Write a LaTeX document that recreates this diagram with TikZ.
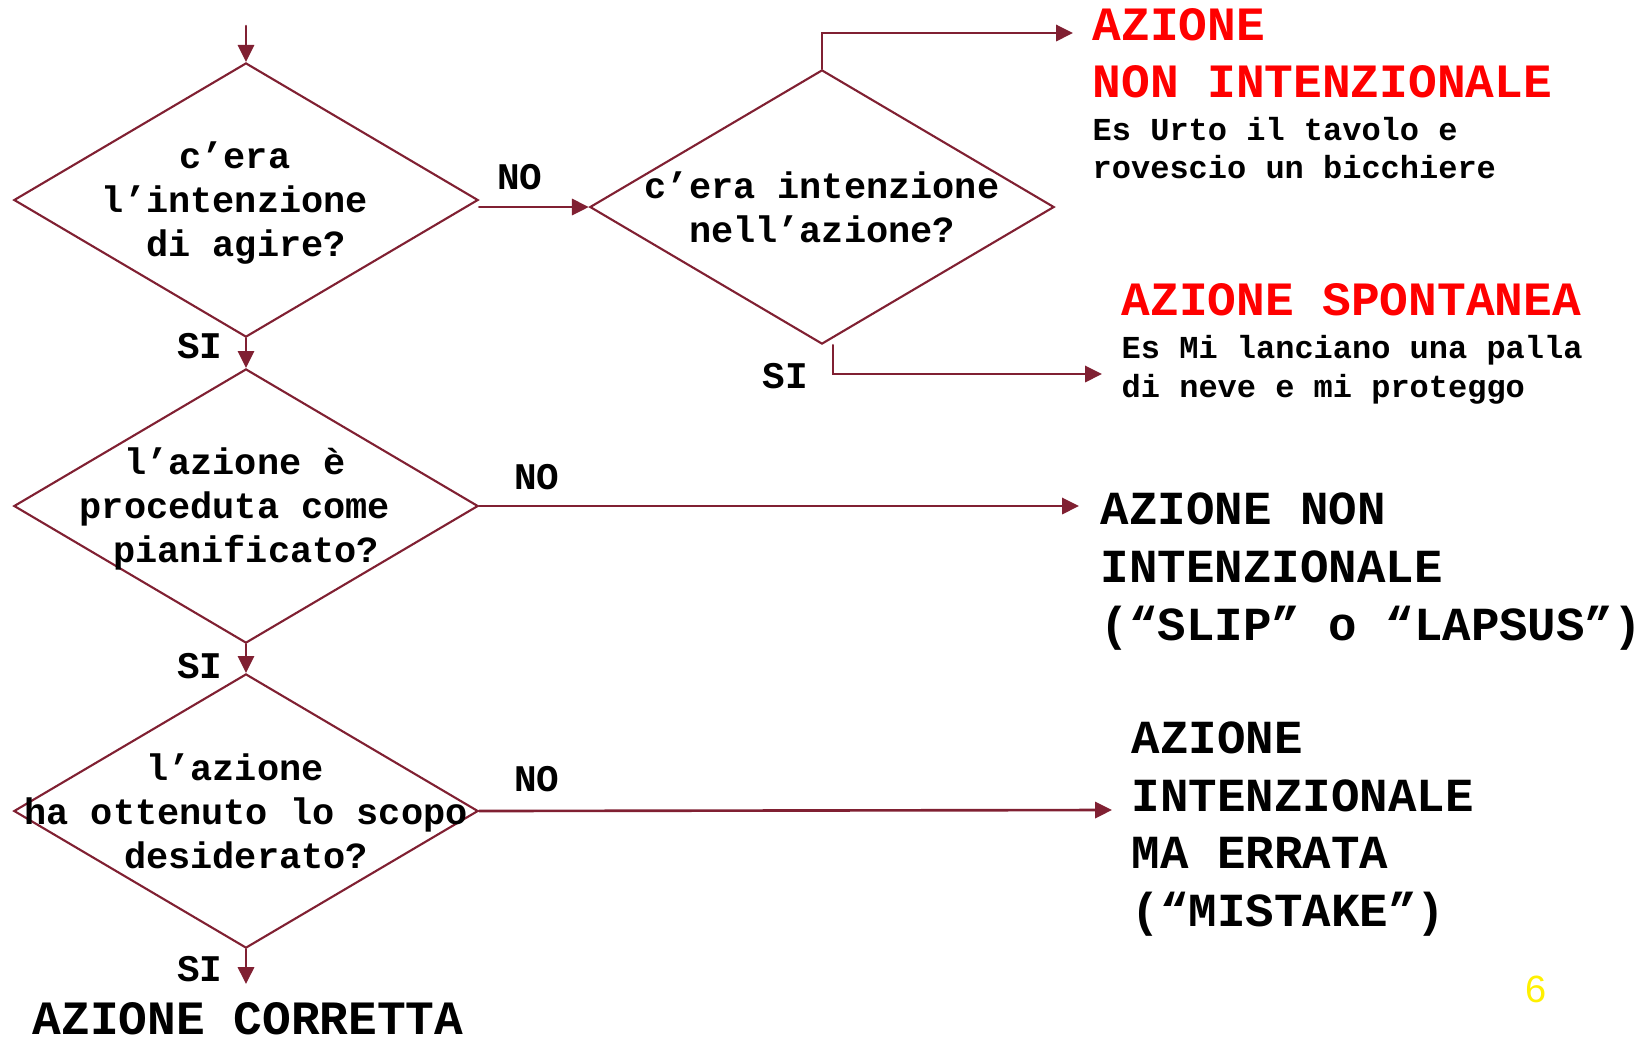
\documentclass[tikz,border=0pt]{standalone}
\usepackage{fontspec}
\setmonofont{Liberation Mono}
\newfontfamily\slidefont{Liberation Sans}
\usepackage{tikz}
\usetikzlibrary{arrows.meta, calc, shapes.geometric}
\definecolor{flowred}{RGB}{128,32,50}
\definecolor{notered}{RGB}{255,0,0}
\definecolor{pageyellow}{RGB}{255,240,0}
\newcommand{\courier}[2]{\ttfamily\bfseries\fontsize{#1}{#2}\selectfont}
\newcommand{\tsp}{\kern0.6em}

\begin{document}
\begin{tikzpicture}[x=0.01cm, y=-0.01cm, line cap=round,
  decision/.style={diamond, draw=flowred, line width=0.6pt, minimum width=4.64cm, minimum height=2.74cm, inner sep=0pt},
  qtext/.style={align=center, inner sep=0pt, font=\courier{10.5}{12.5}},
  yesno/.style={inner sep=0pt, font=\courier{10.7}{12}},
  arr/.style={draw=flowred, line width=0.75pt, -{Triangle[length=4.8pt, width=4.6pt]}},
  outcome/.style={anchor=north west, align=left, inner sep=0pt}]

  \useasboundingbox (0,0) rectangle (1650,1041);

  \coordinate (start) at (246,26);
  \coordinate (stop) at (246,984);
  \coordinate (nonTip) at (1073,33);
  \coordinate (sponTip) at (1102,374);
  \coordinate (slipTip) at (1079,506);
  \coordinate (mistTip) at (1112,810);

  \node[decision] (d1) at (246,200) {};
  \node[decision] (d2) at (822,207) {};
  \node[decision] (d3) at (246,506) {};
  \node[decision] (d4) at (246,811) {};

  \node[qtext] (q1) at ($ (d1)+(0,3) $) {c’era\tsp\\l’intenzione\tsp\\di agire?};
  \node[qtext] (q2) at (d2) {c’era intenzione\\nell’azione?};
  \node[qtext] (q3) at ($ (d3)+(0,3) $) {l’azione è\tsp\\proceduta come\tsp\\pianificato?};
  \node[qtext] (q4) at (d4) {l’azione\tsp\\ha ottenuto lo scopo\\desiderato?};

  \draw[arr] (start) -- (d1.north);
  \draw[arr] (d1.east |- d2.west) -- (d2.west);
  \draw[arr] (d2.north) |- (nonTip);
  \draw[arr] ($ (d2.south)+(11,0) $) |- (sponTip);
  \draw[arr] (d1.south) -- (d3.north);
  \draw[arr] (d3.east) -- (slipTip);
  \draw[arr] (d3.south) -- (d4.north);
  \draw[arr] (d4.east) -- (mistTip);
  \draw[arr] (d4.south) -- (stop);

  \node[yesno] (no1) at (520,177) {NO};
  \node[yesno] (no2) at (537,477) {NO};
  \node[yesno] (no3) at (537,779) {NO};
  \node[yesno] (si1) at (200,346) {SI};
  \node[yesno] (si2) at (200,666) {SI};
  \node[yesno] (si3) at (200,969) {SI};
  \node[yesno] (si4) at (785,376) {SI};

  \node[outcome, text=notered, font=\courier{13.6}{16.2}] (nonTitle) at (1092,8) {AZIONE\\NON INTENZIONALE};
  \node[outcome, font=\courier{9.1}{10.8}] (nonEx) at (1092,117) {Es Urto il tavolo e\\rovescio un bicchiere};
  \node[outcome, text=notered, font=\courier{13.6}{16.2}] (sponTitle) at (1121,283) {AZIONE SPONTANEA};
  \node[outcome, font=\courier{9.1}{11}] (sponEx) at (1121,335) {Es Mi lanciano una palla\\di neve e mi proteggo};
  \node[outcome, font=\courier{13.5}{16.5}] (slip) at (1100,492) {AZIONE NON\\INTENZIONALE\\(“SLIP” o “LAPSUS”)};
  \node[outcome, font=\courier{13.5}{16.4}] (mistake) at (1131,721) {AZIONE\\INTENZIONALE\\MA ERRATA\\(“MISTAKE”)};
  \node[anchor=base, inner sep=0pt, font=\courier{13.6}{16}] (corretta) at (248,1034) {AZIONE CORRETTA};

  \node[text=pageyellow, font=\slidefont\fontsize{10.8}{12}\selectfont] (pagenum) at (1536,989) {6};

\end{tikzpicture}
\end{document}
